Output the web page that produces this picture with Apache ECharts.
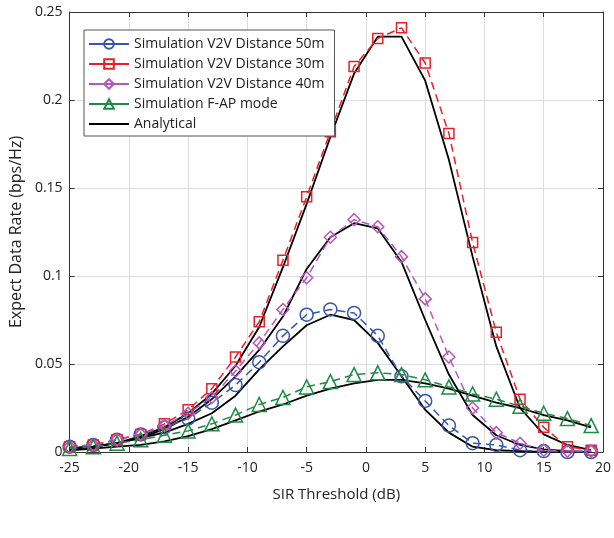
<!DOCTYPE html>
<html>
<head>
<meta charset="utf-8">
<script src="https://cdn.jsdelivr.net/npm/echarts@6/dist/echarts.min.js"></script>
<style>
html,body{margin:0;padding:0;background:#fff;}
#chart{width:614px;height:538px;}
</style>
</head>
<body>
<div id="chart"></div>
<script>
var xValues = [-25,-23,-21,-19,-17,-15,-13,-11,-9,-7,-5,-3,-1,1,3,5,7,9,11,13,15,17,19];

var sim50 = [0.003,0.004,0.007,0.010,0.014,0.019,0.028,0.038,0.051,0.066,0.078,0.081,0.079,0.066,0.043,0.029,0.015,0.005,0.004,0.001,0.0005,0,0];
var sim30 = [0.003,0.004,0.007,0.010,0.016,0.024,0.036,0.054,0.074,0.109,0.145,0.182,0.219,0.235,0.241,0.221,0.181,0.119,0.068,0.030,0.014,0.003,0.001];
var sim40 = [0.003,0.004,0.007,0.010,0.015,0.022,0.031,0.046,0.062,0.081,0.099,0.122,0.132,0.128,0.111,0.087,0.054,0.025,0.011,0.005,0.001,0.0005,0.0005];
var simFAP = [0.002,0.003,0.005,0.007,0.0095,0.012,0.016,0.021,0.027,0.031,0.037,0.040,0.044,0.045,0.044,0.041,0.037,0.033,0.030,0.026,0.022,0.019,0.015];

var ana30 = [0.002,0.003,0.005,0.009,0.014,0.022,0.033,0.049,0.071,0.105,0.141,0.179,0.215,0.236,0.236,0.211,0.166,0.111,0.060,0.025,0.010,0.004,0.001];
var ana40 = [0.002,0.003,0.005,0.008,0.013,0.020,0.030,0.043,0.058,0.077,0.104,0.122,0.130,0.127,0.108,0.075,0.044,0.021,0.0095,0.004,0.0015,0.0005,0];
var ana50 = [0.002,0.003,0.005,0.008,0.011,0.016,0.022,0.032,0.047,0.060,0.072,0.078,0.075,0.062,0.043,0.024,0.011,0.003,0.001,0.0005,0,0,0];
var anaFAP = [0.001,0.002,0.003,0.004,0.006,0.009,0.013,0.018,0.023,0.027,0.032,0.036,0.039,0.041,0.041,0.039,0.036,0.032,0.028,0.025,0.021,0.018,0.014];

var xTicks = {min:-25, max:20, interval:5};
var yTicks = {min:0, max:0.25, interval:0.05};

var names = ['Simulation V2V Distance 50m','Simulation V2V Distance 30m','Simulation V2V Distance 40m','Simulation F-AP mode','Analytical'];

function pairs(arr){ return xValues.map(function(x,i){ return [x, arr[i]]; }); }

var FONT = 'Open Sans';

function simSeries(name, data, color, symbol, size){
  return {
    name: name, type:'line', data: pairs(data), z: 3,
    symbol: symbol, symbolSize: size, showSymbol:true,
    lineStyle:{color:color, width:1.5, type:[8,5]},
    itemStyle:{color:'rgba(255,255,255,0)', borderColor:color, borderWidth:1.5},
    emphasis:{disabled:true}, animation:false
  };
}
function anaSeries(data){
  return {
    name:'Analytical', type:'line', data: pairs(data), z: 2,
    symbol:'none', lineStyle:{color:'#000', width:1.8},
    itemStyle:{color:'#000'},
    emphasis:{disabled:true}, animation:false
  };
}

var legendData = names.map(function(n){
  return n === 'Analytical' ? {name:n, itemStyle:{opacity:0}} : {name:n};
});

var chart = echarts.init(document.getElementById('chart'));
chart.setOption({
  animation:false,
  backgroundColor:'#fff',
  grid:{left:62, right:8, top:12, bottom:86},
  legend:{
    data:legendData, orient:'vertical', left:84, top:30,
    itemWidth:40, itemHeight:12, itemGap:6,
    padding:[7,10,5,4],
    borderColor:'#555', borderWidth:1, backgroundColor:'#fff',
    textStyle:{fontFamily:FONT, fontSize:14, color:'#222'},
    lineStyle:{type:'solid'},
    selectedMode:false
  },
  xAxis:[{
    type:'value', min:xTicks.min, max:xTicks.max, interval:xTicks.interval,
    name:'SIR Threshold (dB)', nameLocation:'middle', nameGap:35,
    nameTextStyle:{fontFamily:FONT, fontSize:15, color:'#222'},
    axisLine:{onZero:false, lineStyle:{color:'#333'}},
    axisTick:{inside:true, length:5, lineStyle:{color:'#333'}},
    axisLabel:{fontFamily:FONT, fontSize:14, color:'#222', margin:9},
    splitLine:{show:true, lineStyle:{color:'#dcdcdc'}}
  },{
    type:'value', position:'top', min:xTicks.min, max:xTicks.max, interval:xTicks.interval,
    axisLine:{show:true, onZero:false, lineStyle:{color:'#333'}},
    axisTick:{show:true, inside:true, length:5, lineStyle:{color:'#333'}},
    axisLabel:{show:false}, splitLine:{show:false}
  }],
  yAxis:[{
    type:'value', min:yTicks.min, max:yTicks.max, interval:yTicks.interval,
    name:'Expect Data Rate (bps/Hz)', nameLocation:'middle', nameGap:35,
    nameTextStyle:{fontFamily:FONT, fontSize:16, color:'#222'},
    axisLine:{show:true, onZero:false, lineStyle:{color:'#333'}},
    axisTick:{show:true, inside:true, length:5, lineStyle:{color:'#333'}},
    axisLabel:{fontFamily:FONT, fontSize:14, color:'#222', margin:7},
    splitLine:{show:true, lineStyle:{color:'#dcdcdc'}}
  },{
    type:'value', position:'right', min:yTicks.min, max:yTicks.max, interval:yTicks.interval,
    axisLine:{show:true, onZero:false, lineStyle:{color:'#333'}},
    axisTick:{show:true, inside:true, length:5, lineStyle:{color:'#333'}},
    axisLabel:{show:false}, splitLine:{show:false}
  }],
  series:[
    simSeries(names[0], sim50, '#3a56aa', 'circle', 13),
    simSeries(names[1], sim30, '#e8202a', 'rect', 10),
    simSeries(names[2], sim40, '#b657b6', 'diamond', 12),
    simSeries(names[3], simFAP, '#1f8a45', 'triangle', 14),
    anaSeries(ana50), anaSeries(ana30), anaSeries(ana40), anaSeries(anaFAP)
  ]
});
</script>
</body>
</html>
